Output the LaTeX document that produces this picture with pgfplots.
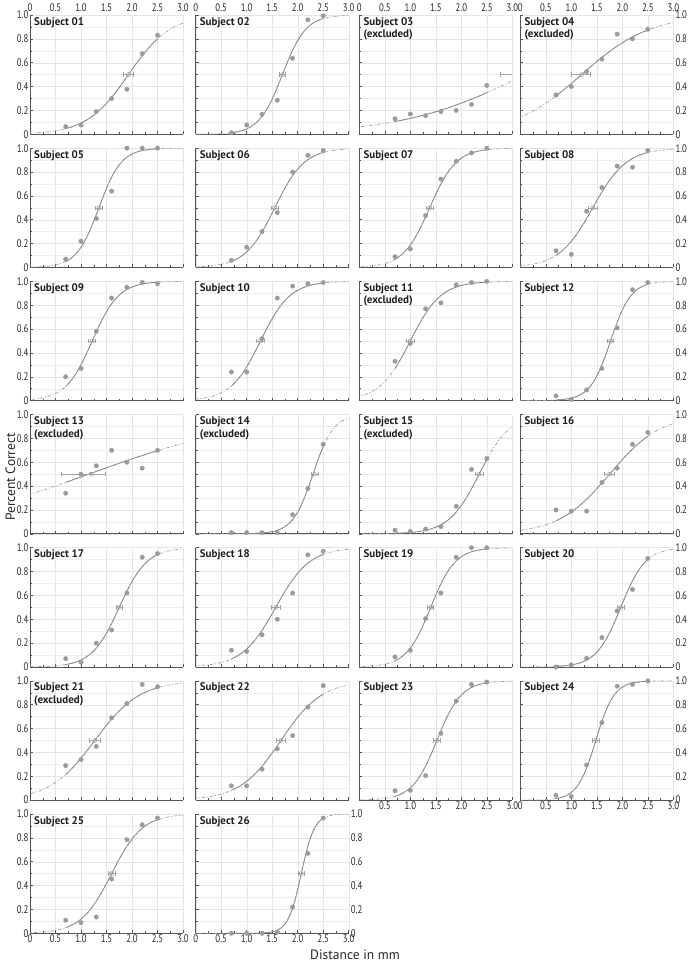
\documentclass[border=0pt]{standalone}
\usepackage{pgfplots}
\pgfplotsset{compat=1.18}
\usepackage{pgfplotstable}
\usepackage{fontspec}
\setmainfont{PT Sans}
\newfontfamily\tickfont[FakeStretch=0.8]{PT Sans}
\definecolor{ptgray}{HTML}{9B9B9B}
\definecolor{curvegray}{HTML}{8C8C8C}
\definecolor{dashgray}{HTML}{A0A0A0}
\definecolor{thrgray}{HTML}{A3A3A3}
\definecolor{axgray}{HTML}{555555}

% standard logistic curve, tabulated (z, p)
\pgfplotstableread{
z p
-40 0
-8 0.00034
-7 0.00091
-6 0.00247
-5 0.00669
-4.5 0.01099
-4 0.01799
-3.75 0.02298
-3.5 0.02931
-3.25 0.03733
-3 0.04743
-2.75 0.06009
-2.5 0.07586
-2.25 0.09535
-2 0.11920
-1.75 0.14805
-1.5 0.18243
-1.25 0.22270
-1 0.26894
-0.75 0.32083
-0.5 0.37754
-0.25 0.43782
0 0.5
0.25 0.56218
0.5 0.62246
0.75 0.67917
1 0.73106
1.25 0.77730
1.5 0.81757
1.75 0.85195
2 0.88080
2.25 0.90465
2.5 0.92414
2.75 0.93991
3 0.95257
3.25 0.96267
3.5 0.97069
3.75 0.97702
4 0.98201
4.5 0.98901
5 0.99331
6 0.99753
7 0.99909
8 0.99966
40 1
}\stdcurve

\tikzset{
  sublbl/.style={anchor=north west, xshift=4pt, yshift=-2pt, inner sep=0pt, align=left,
    font=\bfseries\fontsize{11}{12.5}\selectfont, text=black!88},
}
\pgfplotsset{
  panel/.style={
    scale only axis, width=153pt, height=119.3pt, anchor=south west,
    xmin=0, xmax=3, ymin=0, ymax=1,
    axis x line*=bottom, axis y line*=left,
    axis line style={draw=axgray, line width=0.7pt},
    xtick={0,0.5,1,1.5,2,2.5,3}, ytick={0,0.2,0.4,0.6,0.8,1},
    minor xtick={0.25,0.75,1.25,1.75,2.25,2.75},
    minor ytick={0.1,0.3,0.5,0.7,0.9},
    tick align=inside, major tick length=3pt, minor tick length=2pt,
    tick style={draw=axgray, line width=0.5pt},
    xmajorgrids=true, ymajorgrids=true, yminorgrids=true,
    major grid style={draw=black!10, line width=0.4pt},
    minor grid style={draw=black!7, line width=0.4pt},
    xticklabels={}, yticklabels={},
    tick label style={font=\tickfont\fontsize{11}{11}\selectfont, text=black!85},
    xticklabel style={inner sep=1.5pt},
    yticklabel style={inner sep=1.5pt},
    /pgf/number format/assume math mode=true,
  },
  ovl/.style={
    scale only axis, height=119.3pt, anchor=south west,
    ymin=0, ymax=1, hide axis,
  },
  toplab/.style={xticklabels={0,0.5,1.0,1.5,2.0,2.5,3.0}, xticklabel style={anchor=south, yshift=121pt}},
  botlab/.style={xticklabels={0,0.5,1.0,1.5,2.0,2.5,3.0}},
  botlabnz/.style={xticklabels={,0.5,1.0,1.5,2.0,2.5,3.0}},
  leftlab/.style={yticklabels={0,0.2,0.4,0.6,0.8,1.0}},
  rightlab/.style={yticklabels={0,0.2,0.4,0.6,0.8,1.0}, yticklabel style={anchor=west, xshift=153.5pt}},
  curvedash/.style={color=dashgray, line width=0.7pt, dash pattern=on 3.5pt off 1.8pt on 1pt off 1.8pt},
  curvesolid/.style={color=curvegray, line width=0.8pt, solid},
  pts/.style={only marks, mark=*, mark size=2.3pt, color=ptgray, mark options={fill=ptgray, draw=ptgray, line width=0.2pt}},
  thr/.style={color=thrgray, mark=o, mark size=2pt, mark options={fill=white, draw=thrgray, line width=0.6pt},
    error bars/.cd, x dir=both, x explicit, error mark=|,
    error bar style={line width=0.6pt, draw=thrgray},
    error mark options={draw=thrgray, mark size=2.2pt, line width=0.6pt}},
}

% #1 x, #2 y (bottom-left of axis box), #3 options, #4 label, #5 threshold, #6 spread, #7 points, #8 threshold plot
\newcommand{\subj}[8]{%
\begin{axis}[panel, at={(#1pt,#2pt)}, #3]
\addplot[curvedash] table[x expr=#5+#6*\thisrow{z}, y=p]{\stdcurve};
\end{axis}
\begin{axis}[ovl, width=91.8pt, xmin=0.7, xmax=2.5, at={(#1pt+35.7pt,#2pt)}]
\addplot[curvesolid] table[x expr=#5+#6*\thisrow{z}, y=p]{\stdcurve};
\end{axis}
\begin{axis}[ovl, width=153pt, xmin=0, xmax=3, at={(#1pt,#2pt)}]
\addplot[pts] coordinates {#7};
#8
\node[sublbl] at (rel axis cs:0,1) {#4};
\end{axis}}

\begin{document}
\begin{tikzpicture}
\path[use as bounding box] (0,0) rectangle (690pt,963pt);

% Row 1
\subj{30}{828.7}{leftlab,toplab}{Subject 01}{1.93}{0.41}
 {(0.7,0.064)(1.0,0.078)(1.3,0.19)(1.6,0.30)(1.9,0.377)(2.2,0.676)(2.5,0.83)}
 {\addplot[thr] coordinates {(1.93,0.5) +- (0.1,0)};}
\subj{195.7}{828.7}{toplab}{Subject 02}{1.70}{0.23}
 {(0.7,0.013)(1.0,0.078)(1.3,0.168)(1.6,0.285)(1.9,0.637)(2.2,0.96)(2.5,0.994)}
 {\addplot[thr] coordinates {(1.70,0.5) +- (0.06,0)};}
\subj{359.3}{828.7}{toplab}{Subject 03\\(excluded)}{3.25}{1.2}
 {(0.7,0.13)(1.0,0.17)(1.3,0.156)(1.6,0.19)(1.9,0.20)(2.2,0.25)(2.5,0.41)}
 {\addplot[thrgray, line width=0.6pt] coordinates {(2.77,0.5) (3.0,0.5)};
  \addplot[thrgray, only marks, mark=|, mark size=2.2pt, mark options={line width=0.6pt}] coordinates {(2.77,0.5)};}
\subj{520.3}{828.7}{toplab,rightlab}{Subject 04\\(excluded)}{1.2}{0.67}
 {(0.7,0.33)(1.0,0.40)(1.3,0.525)(1.6,0.63)(1.9,0.84)(2.2,0.80)(2.5,0.88)}
 {\addplot[thr] coordinates {(1.2,0.5) += (0.17,0) -= (0.2,0)};}

% Row 2
\subj{30}{695.53}{leftlab}{Subject 05}{1.35}{0.22}
 {(0.7,0.07)(1.0,0.22)(1.3,0.41)(1.6,0.64)(1.9,1.0)(2.2,1.0)(2.5,1.0)}
 {\addplot[thr] coordinates {(1.35,0.5) +- (0.06,0)};}
\subj{195.7}{695.53}{}{Subject 06}{1.55}{0.29}
 {(0.7,0.06)(1.0,0.17)(1.3,0.30)(1.6,0.46)(1.9,0.80)(2.2,0.94)(2.5,0.98)}
 {\addplot[thr] coordinates {(1.55,0.5) +- (0.06,0)};}
\subj{359.3}{695.53}{}{Subject 07}{1.38}{0.26}
 {(0.7,0.09)(1.0,0.155)(1.3,0.435)(1.6,0.74)(1.9,0.89)(2.2,0.96)(2.5,1.0)}
 {\addplot[thr] coordinates {(1.38,0.5) +- (0.07,0)};}
\subj{520.3}{695.53}{rightlab}{Subject 08}{1.42}{0.33}
 {(0.7,0.14)(1.0,0.11)(1.3,0.47)(1.6,0.67)(1.9,0.85)(2.2,0.84)(2.5,0.98)}
 {\addplot[thr] coordinates {(1.42,0.5) +- (0.08,0)};}

% Row 3
\subj{30}{562.36}{leftlab}{Subject 09}{1.22}{0.26}
 {(0.7,0.20)(1.0,0.27)(1.3,0.58)(1.6,0.86)(1.9,0.95)(2.2,0.99)(2.5,0.98)}
 {\addplot[thr] coordinates {(1.22,0.5) +- (0.07,0)};}
\subj{195.7}{562.36}{}{Subject 10}{1.27}{0.29}
 {(0.7,0.24)(1.0,0.24)(1.3,0.52)(1.6,0.86)(1.9,0.96)(2.2,0.98)(2.5,0.99)}
 {\addplot[thr] coordinates {(1.27,0.5) +- (0.08,0)};}
\subj{359.3}{562.36}{}{Subject 11\\(excluded)}{1.0}{0.3}
 {(0.7,0.33)(1.0,0.48)(1.3,0.77)(1.6,0.82)(1.9,0.97)(2.2,0.99)(2.5,1.0)}
 {\addplot[thr] coordinates {(1.0,0.5) +- (0.07,0)};}
\subj{520.3}{562.36}{rightlab}{Subject 12}{1.77}{0.2}
 {(0.7,0.04)(1.0,0.01)(1.3,0.09)(1.6,0.27)(1.9,0.61)(2.2,0.93)(2.5,0.99)}
 {\addplot[thr] coordinates {(1.77,0.5) +- (0.06,0)};}

% Row 4
\subj{30}{429.19}{leftlab}{Subject 13\\(excluded)}{1.15}{1.62}
 {(0.7,0.34)(1.0,0.50)(1.3,0.57)(1.6,0.70)(1.9,0.60)(2.2,0.55)(2.5,0.70)}
 {\addplot[thr] coordinates {(1.2,0.5) += (0.28,0) -= (0.58,0)};}
\subj{195.7}{429.19}{}{Subject 14\\(excluded)}{2.3}{0.2}
 {(0.7,0.01)(1.0,0.01)(1.3,0.01)(1.6,0.01)(1.9,0.16)(2.2,0.38)(2.5,0.75)}
 {\addplot[thr] coordinates {(2.33,0.5) +- (0.07,0)};}
\subj{359.3}{429.19}{}{Subject 15\\(excluded)}{2.35}{0.3}
 {(0.7,0.03)(1.0,0.02)(1.3,0.04)(1.6,0.06)(1.9,0.23)(2.2,0.54)(2.5,0.63)}
 {\addplot[thr] coordinates {(2.35,0.5) +- (0.08,0)};}
\subj{520.3}{429.19}{rightlab}{Subject 16}{1.75}{0.5}
 {(0.7,0.20)(1.0,0.19)(1.3,0.19)(1.6,0.43)(1.9,0.55)(2.2,0.75)(2.5,0.85)}
 {\addplot[thr] coordinates {(1.75,0.5) +- (0.1,0)};}

% Row 5
\subj{30}{296.02}{leftlab}{Subject 17}{1.75}{0.27}
 {(0.7,0.07)(1.0,0.04)(1.3,0.20)(1.6,0.31)(1.9,0.62)(2.2,0.92)(2.5,0.95)}
 {\addplot[thr] coordinates {(1.75,0.5) +- (0.06,0)};}
\subj{195.7}{296.02}{}{Subject 18}{1.57}{0.33}
 {(0.7,0.14)(1.0,0.13)(1.3,0.27)(1.6,0.40)(1.9,0.62)(2.2,0.94)(2.5,0.97)}
 {\addplot[thr] coordinates {(1.57,0.5) +- (0.08,0)};}
\subj{359.3}{296.02}{}{Subject 19}{1.40}{0.24}
 {(0.7,0.084)(1.0,0.14)(1.3,0.405)(1.6,0.62)(1.9,0.92)(2.2,1.0)(2.5,1.0)}
 {\addplot[thr] coordinates {(1.40,0.5) +- (0.06,0)};}
\subj{520.3}{296.02}{rightlab}{Subject 20}{1.97}{0.24}
 {(0.7,0.0)(1.0,0.017)(1.3,0.073)(1.6,0.246)(1.9,0.47)(2.2,0.65)(2.5,0.91)}
 {\addplot[thr] coordinates {(1.97,0.5) +- (0.06,0)};}

% Row 6
\subj{30}{162.85}{leftlab}{Subject 21\\(excluded)}{1.27}{0.44}
 {(0.7,0.29)(1.0,0.34)(1.3,0.45)(1.6,0.69)(1.9,0.81)(2.2,0.97)(2.5,0.95)}
 {\addplot[thr] coordinates {(1.27,0.5) +- (0.1,0)};}
\subj{195.7}{162.85}{}{Subject 22}{1.67}{0.4}
 {(0.7,0.12)(1.0,0.12)(1.3,0.26)(1.6,0.43)(1.9,0.54)(2.2,0.78)(2.5,0.96)}
 {\addplot[thr] coordinates {(1.67,0.5) +- (0.08,0)};}
\subj{359.3}{162.85}{botlabnz}{Subject 23}{1.52}{0.24}
 {(0.7,0.078)(1.0,0.083)(1.3,0.206)(1.6,0.56)(1.9,0.83)(2.2,0.97)(2.5,0.99)}
 {\addplot[thr] coordinates {(1.52,0.5) +- (0.06,0)};}
\subj{520.3}{162.85}{botlab,rightlab}{Subject 24}{1.48}{0.18}
 {(0.7,0.04)(1.0,0.03)(1.3,0.295)(1.6,0.65)(1.9,0.955)(2.2,0.97)(2.5,1.0)}
 {\addplot[thr] coordinates {(1.48,0.5) +- (0.06,0)};}

% Row 7
\subj{30}{29.68}{leftlab,botlab}{Subject 25}{1.60}{0.3}
 {(0.7,0.11)(1.0,0.09)(1.3,0.137)(1.6,0.455)(1.9,0.785)(2.2,0.91)(2.5,0.966)}
 {\addplot[thr] coordinates {(1.60,0.5) +- (0.07,0)};}
\subj{195.7}{29.68}{botlab,rightlab}{Subject 26}{2.07}{0.13}
 {(0.7,0.0)(1.0,0.0)(1.3,0.0)(1.6,0.011)(1.9,0.22)(2.2,0.67)(2.5,0.966)}
 {\addplot[thr] coordinates {(2.07,0.5) +- (0.05,0)};}

\node[rotate=90, font=\fontsize{13.5}{14}\selectfont, text=black!85] at (10.5pt,486pt) {Percent Correct};
\node[font=\fontsize{13.5}{14}\selectfont, text=black!85] at (355pt,8pt) {Distance in mm};
\end{tikzpicture}
\end{document}
